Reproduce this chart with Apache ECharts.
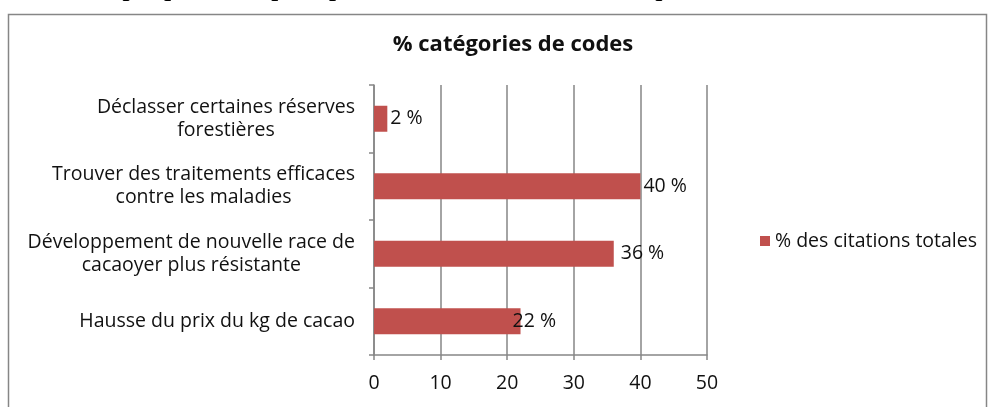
<!DOCTYPE html>
<html>
<head>
<meta charset="utf-8">
<script src="https://cdn.jsdelivr.net/npm/echarts@6/dist/echarts.min.js"></script>
<style>
  html, body { margin: 0; padding: 0; background: #fff; }
  #main { width: 989px; height: 407px; }
</style>
</head>
<body>
<div id="main"></div>
<script>
// categories from bottom to top (as drawn)
const categories = [
  'Hausse du prix du kg de cacao',
  'Développement de nouvelle race de\ncacaoyer plus résistante',
  'Trouver des traitements efficaces\ncontre les maladies',
  'Déclasser certaines réserves\nforestières'
]
const values = [22, 36, 40, 2]
const xTicks = [0, 10, 20, 30, 40, 50]
const seriesName = '% des citations totales'

const font = 'Open Sans'
const gray = '#868686'
const fs = 19.5

const chart = echarts.init(document.getElementById('main'))
const option = {
  animation: false,
  textStyle: { fontFamily: font },
  title: {
    text: '% catégories de codes',
    left: 508,
    top: 29,
    textAlign: 'center',
    textStyle: { fontFamily: font, fontSize: 22, fontWeight: 'bold', color: '#111' }
  },
  graphic: [
    {
      // cadre du graphique
      type: 'rect',
      shape: { x: 8.5, y: 14.5, width: 978, height: 420 },
      style: { fill: 'none', stroke: gray, lineWidth: 1.5 },
      silent: true
    },
    {
      // légende du document, coupée en haut
      type: 'text',
      x: 503,
      y: 2.5,
      style: {
        text: 'Graphique 1 : La perception de la durabilité économique de la culture du cacao',
        font: 'bold 25px "Liberation Serif"',
        fill: '#000',
        align: 'center',
        verticalAlign: 'bottom'
      },
      silent: true
    }
  ],
  legend: {
    data: [seriesName],
    left: 755,
    top: 226,
    itemWidth: 10,
    itemHeight: 10,
    itemGap: 6,
    icon: 'rect',
    textStyle: { fontFamily: font, fontSize: 19.5, color: '#111' }
  },
  grid: { left: 374, right: 282, top: 85, bottom: 52 },
  xAxis: {
    type: 'value',
    min: 0,
    max: 50,
    interval: 10,
    axisLine: { show: true, lineStyle: { color: gray, width: 1.5 } },
    axisTick: { show: true, length: 5, lineStyle: { color: gray, width: 1.5 } },
    splitLine: { show: true, lineStyle: { color: gray, width: 1.5 } },
    axisLabel: {
      margin: 18,
      fontSize: fs,
      color: '#111',
      formatter: v => (xTicks.includes(v) ? String(v) : '')
    }
  },
  yAxis: {
    type: 'category',
    data: categories,
    axisLine: { show: true, lineStyle: { color: gray, width: 1.5 } },
    axisTick: { show: true, length: 5, lineStyle: { color: gray, width: 1.5 } },
    axisLabel: {
      margin: 19,
      color: '#111',
      fontSize: fs,
      lineHeight: 23,
      formatter: v => v.split('\n').map(l => '{c|' + l + '}').join('\n'),
      rich: { c: { align: 'center', fontSize: fs, lineHeight: 23, color: '#111', fontFamily: font } }
    }
  },
  series: [
    {
      name: seriesName,
      type: 'bar',
      data: values.map((v, i) => ({
        value: v,
        label: i === 0 ? { offset: [-11, 0] } : (v === 36 ? { offset: [4, 0] } : {})
      })),
      barWidth: 26,
      itemStyle: { color: '#C0504D' },
      label: {
        show: true,
        position: 'right',
        distance: 3,
        fontSize: fs,
        color: '#111',
        fontFamily: font,
        formatter: p => p.value + ' %'
      }
    }
  ]
}
chart.setOption(option)
</script>
</body>
</html>
